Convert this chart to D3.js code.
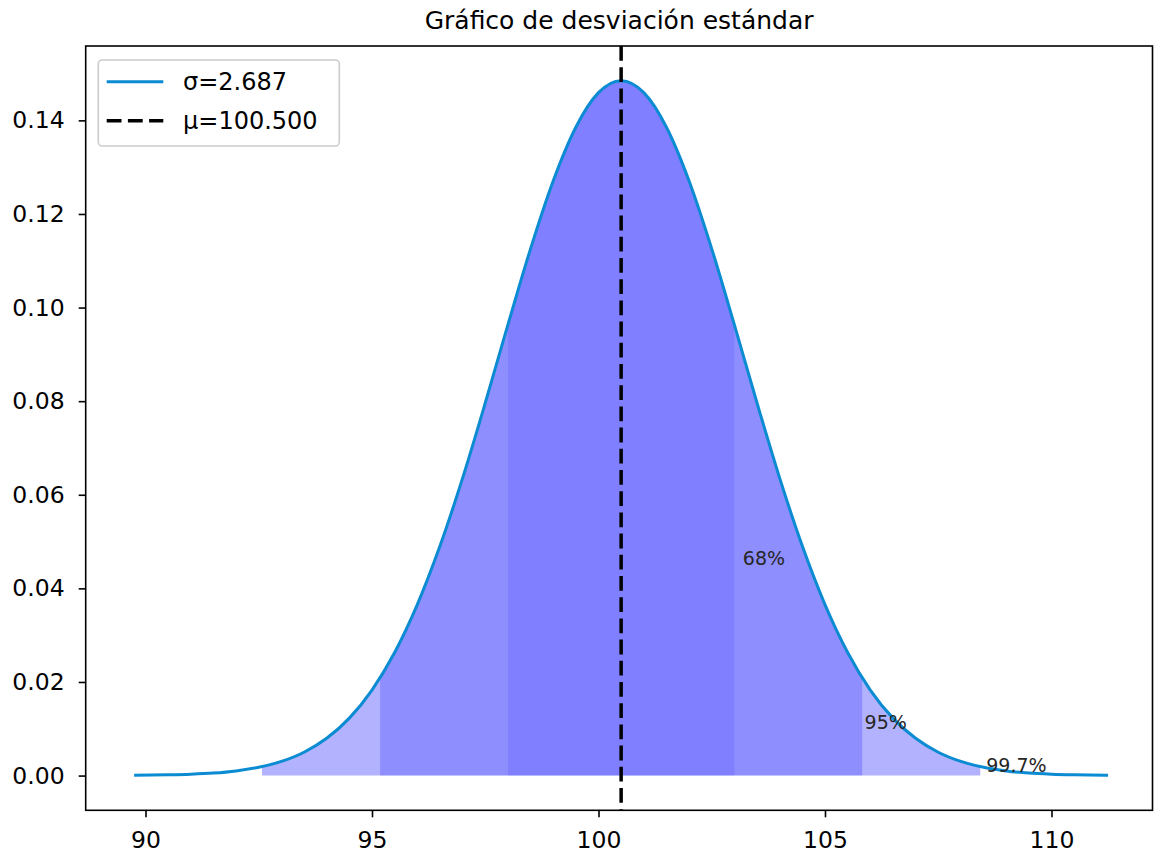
<!DOCTYPE html>
<html>
<head>
<meta charset="utf-8">
<script src="https://cdn.jsdelivr.net/npm/d3@7"></script>
<style>
  body { margin: 0; background: #fff; }
  text { font-family: "DejaVu Sans", sans-serif; }
</style>
</head>
<body>
<svg id="chart" width="1154" height="856"></svg>
<script>
// valores
const mu = 100.5;
const sigma = 2.687;

const curveX = [89.75, 90.5, 91.0, 91.5, 92.0, 92.5, 93.0, 93.5, 94.0, 94.5, 95.0,
  95.5, 96.0, 96.5, 97.0, 97.5, 98.0, 98.5, 99.0, 99.5, 100.0, 100.5,
  101.0, 101.5, 102.0, 102.5, 103.0, 103.5, 104.0, 104.5, 105.0, 105.5,
  106.0, 106.5, 107.0, 107.5, 108.0, 108.5, 109.0, 109.5, 110.0, 110.5, 111.25];
const curveY = [0.00005, 0.00015, 0.00029, 0.00054, 0.00100, 0.00177, 0.00302, 0.00499, 0.00796, 0.01227, 0.01828,
  0.02629, 0.03653, 0.04903, 0.06356, 0.07960, 0.09631, 0.11255, 0.12705, 0.13854, 0.14592, 0.14847,
  0.14592, 0.13854, 0.12705, 0.11255, 0.09631, 0.07960, 0.06356, 0.04903, 0.03653, 0.02629,
  0.01828, 0.01227, 0.00796, 0.00499, 0.00302, 0.00177, 0.00100, 0.00054, 0.00029, 0.00015, 0.00005];

// bandas: 99.7%, 95%, 68%
const bandLabels = ["99.7%", "95%", "68%"];
const bandLo = [92.572, 95.179, 98.002];
const bandHi = [108.428, 105.821, 102.998];
const bandAlpha = [0.3, 0.2, 0.1];
const labelX = [108.561, 105.874, 103.187];
const labelY = [0.00083, 0.01005, 0.04503];

const xTicks = [90, 95, 100, 105, 110];
const yTicks = [0, 0.02, 0.04, 0.06, 0.08, 0.10, 0.12, 0.14];

const svg = d3.select("#chart");
const plotL = 85.7, plotR = 1152.5, plotT = 46, plotB = 810.3;

const x = d3.scaleLinear().domain([88.68, 112.23]).range([plotL, plotR]);
const y = d3.scaleLinear().domain([-0.00742, 0.15589]).range([plotB, plotT]);

const pts = curveX.map((v, i) => [v, curveY[i]]);

// bandas sombreadas
const area = d3.area()
  .x(d => x(d[0]))
  .y0(y(0))
  .y1(d => y(d[1]))
  .curve(d3.curveMonotoneX);

const defs = svg.append("defs");
bandLabels.forEach((lab, i) => {
  defs.append("clipPath").attr("id", "band" + i)
    .append("rect")
    .attr("x", x(bandLo[i]))
    .attr("y", plotT)
    .attr("width", x(bandHi[i]) - x(bandLo[i]))
    .attr("height", plotB - plotT);
  svg.append("path")
    .datum(pts)
    .attr("d", area)
    .attr("clip-path", `url(#band${i})`)
    .attr("fill", "blue")
    .attr("fill-opacity", bandAlpha[i]);
});

// curva
const line = d3.line()
  .x(d => x(d[0]))
  .y(d => y(d[1]))
  .curve(d3.curveMonotoneX);

svg.append("path")
  .datum(pts)
  .attr("d", line)
  .attr("fill", "none")
  .attr("stroke", "#0b8bd2")
  .attr("stroke-width", 3);

// linea de la media
svg.append("line")
  .attr("x1", x(mu)).attr("x2", x(mu))
  .attr("y1", plotT).attr("y2", plotB)
  .attr("stroke", "#000")
  .attr("stroke-width", 3.5)
  .attr("stroke-dasharray", "14.8,6.4");

// etiquetas de porcentaje
bandLabels.forEach((lab, i) => {
  svg.append("text")
    .attr("x", x(labelX[i]))
    .attr("y", y(labelY[i]))
    .attr("font-size", "19px")
    .attr("fill", "#262626")
    .text(lab);
});

// ejes
const xAxis = svg.append("g")
  .attr("transform", `translate(0,${plotB})`)
  .call(d3.axisBottom(x).tickValues(xTicks).tickFormat(d3.format("d")).tickSize(7).tickPadding(14));
const yAxis = svg.append("g")
  .attr("transform", `translate(${plotL},0)`)
  .call(d3.axisLeft(y).tickValues(yTicks).tickFormat(d3.format(".2f")).tickSize(7).tickPadding(14));

[xAxis, yAxis].forEach(g => {
  g.select(".domain").remove();
  g.selectAll(".tick line").attr("stroke", "#000").attr("stroke-width", 1.6);
  g.selectAll(".tick text")
    .attr("fill", "#000")
    .attr("font-size", "23.5px")
    .attr("font-family", "DejaVu Sans, sans-serif");
});

svg.append("rect")
  .attr("x", plotL).attr("y", plotT)
  .attr("width", plotR - plotL).attr("height", plotB - plotT)
  .attr("fill", "none")
  .attr("stroke", "#000")
  .attr("stroke-width", 1.6);

// titulo
svg.append("text")
  .attr("x", (plotL + plotR) / 2)
  .attr("y", 29)
  .attr("text-anchor", "middle")
  .attr("font-size", "25px")
  .attr("fill", "#000")
  .text("Gráfico de desviación estándar");

// leyenda
const legend = svg.append("g");
legend.append("rect")
  .attr("x", 98.3).attr("y", 60)
  .attr("width", 241).attr("height", 86)
  .attr("rx", 4)
  .attr("fill", "#fff").attr("fill-opacity", 0.8)
  .attr("stroke", "#ccc").attr("stroke-width", 1.6);

const legendItems = [
  { label: `σ=${sigma.toFixed(3)}`, color: "#0b8bd2", dash: null, width: 3 },
  { label: `μ=${mu.toFixed(3)}`, color: "#000", dash: "14.8,6.4", width: 3.5 }
];
legendItems.forEach((d, i) => {
  const ly = 81.7 + i * 39;
  legend.append("line")
    .attr("x1", 106.7).attr("x2", 163.3)
    .attr("y1", ly).attr("y2", ly)
    .attr("stroke", d.color)
    .attr("stroke-width", d.width)
    .attr("stroke-dasharray", d.dash);
  legend.append("text")
    .attr("x", 183)
    .attr("y", ly)
    .attr("dy", "0.35em")
    .attr("font-size", "24px")
    .attr("fill", "#000")
    .text(d.label);
});
</script>
</body>
</html>
